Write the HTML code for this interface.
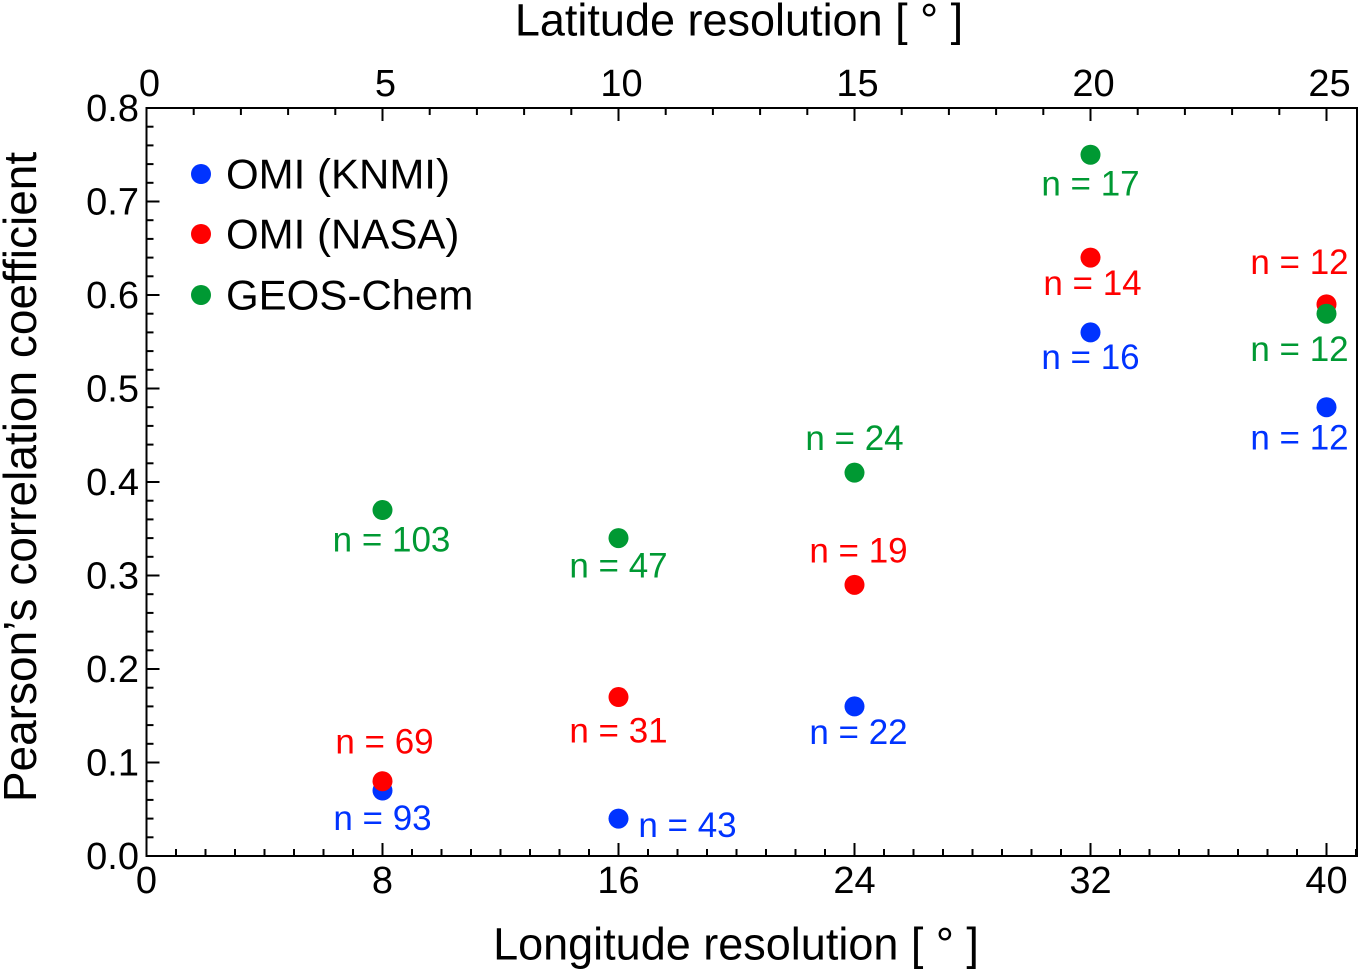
<!DOCTYPE html>
<html><head><meta charset="utf-8"><style>
body{margin:0;background:#fff}
svg{display:block;font-family:"Liberation Sans",sans-serif}
text{dominant-baseline:central}
</style></head><body>
<svg id="c" width="1359" height="969"></svg>
<script>
const lonValues=[8,16,24,32,40];
const knmi=[0.07,0.04,0.16,0.56,0.48];
const nasa=[0.08,0.17,0.29,0.64,0.59];
const geos=[0.37,0.34,0.41,0.75,0.58];
const knmiN=["93","43","22","16","12"];
const nasaN=["69","31","19","14","12"];
const geosN=["103","47","24","17","12"];
const xTicks=[0,8,16,24,32,40];
const topTicks=[0,5,10,15,20,25];
const yTicks=[0.0,0.1,0.2,0.3,0.4,0.5,0.6,0.7,0.8];
const L=146.5,R=1357,T=108,B=856;
const X=v=>L+v*29.5, XT=v=>X(v*1.6), Y=v=>B-v*935;
const svg=document.getElementById('c');const NS='http://www.w3.org/2000/svg';
function mk(t,a,p){const e=document.createElementNS(NS,t);for(const k in a)e.setAttribute(k,a[k]);(p||svg).appendChild(e);return e;}
const frame=mk('rect',{x:L,y:T,width:R-L,height:B-T,fill:'none',stroke:'#000','stroke-width':2});


for(let i=0;i<=41;i++){const big=i%8===0;const l=mk('line',{x1:X(i),x2:X(i),y1:B,y2:B-(big?13:7),stroke:'#000','stroke-width':2});

}
for(let i=1;i<=25;i++){const big=i%5===0;const l=mk('line',{x1:XT(i),x2:XT(i),y1:T,y2:T+(big?13:7),stroke:'#000','stroke-width':2});

}
for(let i=1;i<40;i++){const big=i%5===0;const l=mk('line',{x1:L,x2:L+(big?13:7),y1:Y(i*0.02),y2:Y(i*0.02),stroke:'#000','stroke-width':2});

}
xTicks.forEach(v=>{const t=mk('text',{x:X(v),y:881,'font-size':38,'text-anchor':'middle'});t.textContent=v;

});
topTicks.forEach(v=>{const t=mk('text',{x:XT(v)+3,y:84,'font-size':38,'text-anchor':'middle'});t.textContent=v;

});
yTicks.forEach(v=>{const t=mk('text',{x:139,y:Y(v)+1,'font-size':38,'text-anchor':'end'});t.textContent=v.toFixed(1);

});
let t=mk('text',{x:736,y:944,'font-size':45,'text-anchor':'middle'});t.textContent='Longitude  resolution [ ° ]';

t=mk('text',{x:739,y:20,'font-size':45,'text-anchor':'middle'});t.textContent='Latitude  resolution [ ° ]';

t=mk('text',{x:0,y:0,'font-size':46,'text-anchor':'middle',transform:'translate(20,477) rotate(-90)'});t.textContent='Pearson’s correlation coefficient';

const series=[
 {name:'knmi',vals:knmi,ns:knmiN,col:'#0033ff',off:[[0,39],[69,18],[4,37],[0,36],[-27,42]]},
 {name:'nasa',vals:nasa,ns:nasaN,col:'#ff0000',off:[[2,-28],[0,45],[4,-23],[2,37],[-27,-31]]},
 {name:'geos',vals:geos,ns:geosN,col:'#009933',off:[[9,41],[0,39],[0,-23],[0,40],[-27,47]]}];
[0,1,2].forEach(si=>{const s=series[si];s.vals.forEach((v,i)=>{
 const cx=X(lonValues[i]),cy=Y(v);
 const c=mk('circle',{cx:cx,cy:cy,r:10,fill:s.col});
 
 
 const lb=mk('text',{x:cx+s.off[i][0],y:cy+s.off[i][1]-11,'font-size':35,'text-anchor':'middle',fill:s.col});lb.textContent='n = '+s.ns[i];
 
 
});});
const leg=[['OMI (KNMI)','#0033ff',174],['OMI (NASA)','#ff0000',234],['GEOS-Chem','#009933',295]];
leg.forEach(l=>{const c=mk('circle',{cx:201,cy:l[2],r:10,fill:l[1]});

const tx=mk('text',{x:226,y:l[2],'font-size':42});tx.textContent=l[0];
});
</script>
</body></html>
